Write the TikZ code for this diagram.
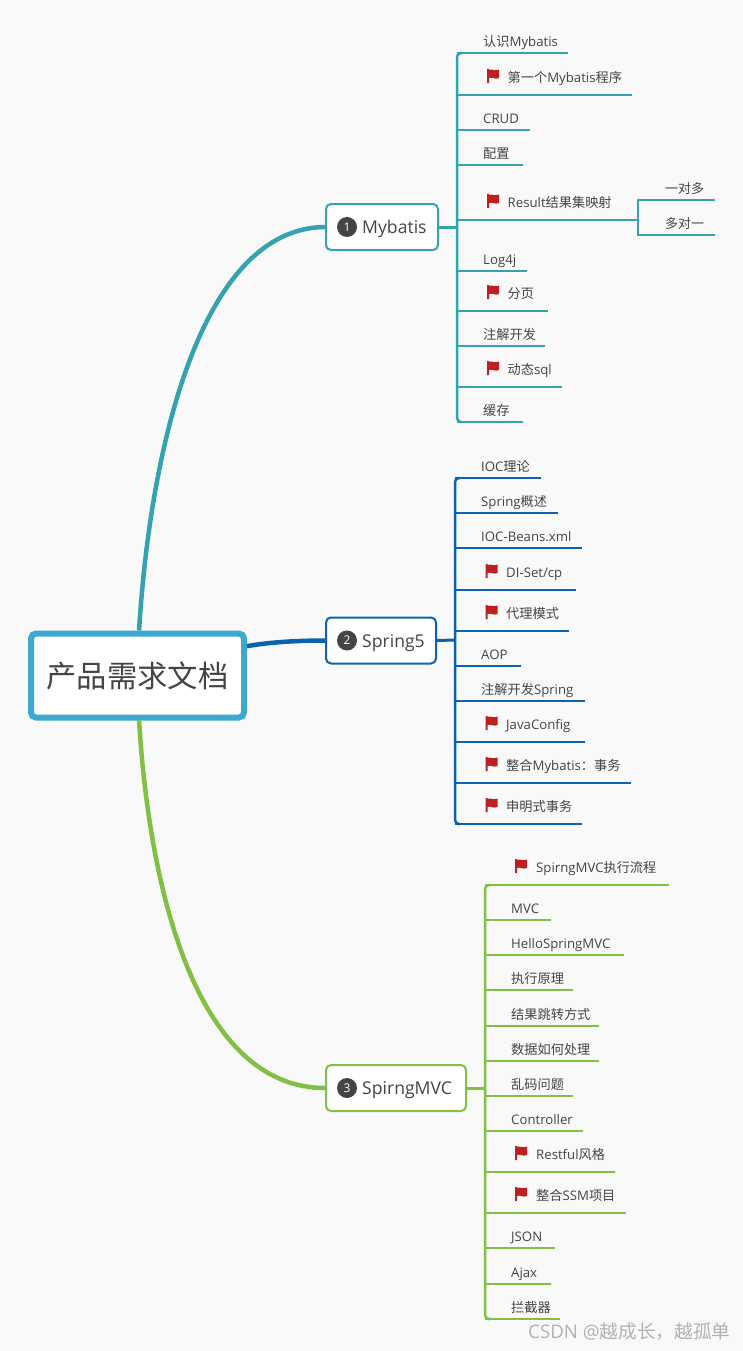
\documentclass[tikz,border=0pt]{standalone}
\usepackage{fontspec}
\setmainfont{Open Sans}
\newfontfamily\cjk{Noto Sans CJK SC}
\definecolor{pagegray}{HTML}{F9F9F9}
\definecolor{rootblue}{HTML}{3BA9D0}
\definecolor{mybatisteal}{HTML}{35A2AF}
\definecolor{springblue}{HTML}{0B63AF}
\definecolor{mvcgreen}{HTML}{82BF45}
\definecolor{flagred}{HTML}{C01F1F}
\definecolor{textgray}{HTML}{444444}
\tikzset{
	root/.style={draw=rootblue, line width=6, fill=white, rounded corners=5, minimum width=213, minimum height=84, text=textgray, font=\cjk\fontsize{30.3}{34}\selectfont, inner sep=0},
	topic/.style={draw=#1, line width=2, fill=white, rounded corners=5, minimum height=46, inner sep=0},
	badge/.style={circle, fill=textgray, text=white, minimum size=20, inner sep=0, font=\fontsize{12}{14}\selectfont},
	topiclabel/.style={anchor=base west, inner sep=0, text=textgray, font=\fontsize{17.6}{20}\selectfont},
	leaf/.style={anchor=base west, inner sep=0, text=textgray, font=\fontsize{13.2}{15}\selectfont},
	curveline/.style={draw=#1, line width=4.5},
	stem/.style={draw=#1, line width=3},
	trunk/.style={draw=#1, line width=2.5, rounded corners=4},
	twig/.style={draw=#1, line width=1.8},
	flagicon/.pic={
		\fill[flagred] (0,0) -- (2,0) -- (2,1) .. controls (5,-0.5) and (8,2.5) .. (12,0.5) -- (12,9) .. controls (8,11) and (5,7.5) .. (2,9) -- (2,14) -- (0,14) -- cycle;
	}
}
\begin{document}
\begin{tikzpicture}[x=1pt, y=-1pt]
		\useasboundingbox[fill=pagegray] (0,0) rectangle (743,1351);
		
		% Root and topics
		\node[root] (root) at (137.5,675.5) {产品需求文档};
		\node[topic=mybatisteal, minimum width=112] (m1) at (382,227) {};
		\node[topic=springblue, minimum width=110] (m2) at (381,640.5) {};
		\node[topic=mvcgreen, minimum width=140] (m3) at (396,1088) {};
		\node[badge] (n1) at (347,227) {1};
		\node[badge] (n2) at (347,640.5) {2};
		\node[badge] (n3) at (347,1088) {3};
		\node[topiclabel] (l1) at (362,233.5) {Mybatis};
		\node[topiclabel] (l2) at (362,647) {Spring5};
		\node[topiclabel] (l3) at (362,1094.5) {SpirngMVC};
		
		\draw[curveline=mybatisteal] (root.88) .. controls (150,450) and (200,228) .. (m1.west);
		\draw[curveline=springblue] (root.15) .. controls (270,642) and (300,640.5) .. (m2.west);
		\draw[curveline=mvcgreen] (root.272) .. controls (150,900) and (200,1088) .. (m3.west);
		
		% Mybatis
		\coordinate (t1) at (457,227);
		\foreach \nm/\yy/\xend/\txt in {a1/53/568/{{\cjk 认识}Mybatis}, a3/130/530/CRUD, a4/165/523/{\cjk 配置}, a6/271/527/Log4j, a8/346/545/{\cjk 注解开发}, a10/422/523/{\cjk 缓存}} {
			\node[leaf] (\nm) at (483,\yy-6.5) {\txt};
			\coordinate (e\nm) at (\xend,\yy);
		}
		\foreach \nm/\yy/\xend/\txt in {a2/95/632/{{\cjk 第一个}Mybatis{\cjk 程序}}, a5/220/620/{Result{\cjk 结果集映射}}, a7/311/548/{\cjk 分页}, a9/387/562/{{\cjk 动态}sql}} {
			\pic at (487,\yy-26) {flagicon};
			\node[leaf] (\nm) at (507.5,\yy-12.5) {\txt};
			\coordinate (e\nm) at (\xend,\yy);
		}
		\draw[stem=mybatisteal] (m1.east) -- (t1);
		\draw[trunk=mybatisteal] (462,53) -- (t1 |- ea1) -- (t1 |- ea10) -- (462,422);
		\foreach \nm in {a1,a2,a3,a4,a5,a6,a7,a8,a9,a10}
			\draw[twig=mybatisteal] (t1 |- e\nm) -- (e\nm);
		
		% Result sub branch
		\coordinate (s1) at (638,220);
		\coordinate (es1) at (715,200);
		\coordinate (es2) at (715,235);
		\node[leaf, font=\cjk\fontsize{13}{15}\selectfont] (b1) at (665,193.5) {一对多};
		\node[leaf, font=\cjk\fontsize{13}{15}\selectfont] (b2) at (665,228.5) {多对一};
		\draw[stem=mybatisteal, line width=2.2] (ea5) -- (s1);
		\draw[twig=mybatisteal] (es1) -- (s1 |- es1) -- (s1 |- es2) -- (es2);
		
		% Spring5
		\coordinate (t2) at (455,640);
		\foreach \nm/\yy/\xend/\txt in {c1/478/541/{IOC{\cjk 理论}}, c2/513/558/{Spring{\cjk 概述}}, c3/548/582/IOC-Beans.xml, c6/666/521/AOP, c7/701/585/{{\cjk 注解开发}Spring}} {
			\node[leaf] (\nm) at (481,\yy-6.5) {\txt};
			\coordinate (e\nm) at (\xend,\yy);
		}
		\foreach \nm/\yy/\xend/\txt in {c4/590/576/{DI-Set/cp}, c5/631/569/{\cjk 代理模式}, c8/742/585/JavaConfig, c9/783/631/{{\cjk 整合}Mybatis{\cjk ：事务}}, c10/824/582/{\cjk 申明式事务}} {
			\pic at (485.5,\yy-26) {flagicon};
			\node[leaf] (\nm) at (506,\yy-12.5) {\txt};
			\coordinate (e\nm) at (\xend,\yy);
		}
		\draw[stem=springblue] (m2.east) -- (t2);
		\draw[trunk=springblue] (460,478) -- (t2 |- ec1) -- (t2 |- ec10) -- (460,824);
		\foreach \nm in {c1,c2,c3,c4,c5,c6,c7,c8,c9,c10}
			\draw[twig=springblue] (t2 |- e\nm) -- (e\nm);
		
		% SpirngMVC
		\coordinate (t3) at (485,1088);
		\foreach \nm/\yy/\xend/\txt in {d2/920/551/MVC, d3/955/624/HelloSpringMVC, d4/990/573/{\cjk 执行原理}, d5/1026/599/{\cjk 结果跳转方式}, d6/1061/599/{\cjk 数据如何处理}, d7/1096/573/{\cjk 乱码问题}, d8/1131/583/Controller, d11/1248/555/JSON, d12/1284/551/Ajax, d13/1319/560/{\cjk 拦截器}} {
			\node[leaf] (\nm) at (511,\yy-6.5) {\txt};
			\coordinate (e\nm) at (\xend,\yy);
		}
		\foreach \nm/\yy/\xend/\txt in {d1/885/669/{SpirngMVC{\cjk 执行流程}}, d9/1172/615/{Restful{\cjk 风格}}, d10/1213/626/{{\cjk 整合}SSM{\cjk 项目}}} {
			\pic at (515,\yy-26) {flagicon};
			\node[leaf] (\nm) at (536,\yy-12.5) {\txt};
			\coordinate (e\nm) at (\xend,\yy);
		}
		\draw[stem=mvcgreen] (m3.east) -- (t3);
		\draw[trunk=mvcgreen] (490,885) -- (t3 |- ed1) -- (t3 |- ed13) -- (490,1319);
		\foreach \nm in {d1,d2,d3,d4,d5,d6,d7,d8,d9,d10,d11,d12,d13}
			\draw[twig=mvcgreen] (t3 |- e\nm) -- (e\nm);
		
		% Watermark
		\node[anchor=base west, inner sep=0, text=black!30, font=\fontsize{18.7}{20}\selectfont] (w) at (528,1338) {CSDN @{\cjk 越成长，越孤单}};
	\end{tikzpicture}
\end{document}
